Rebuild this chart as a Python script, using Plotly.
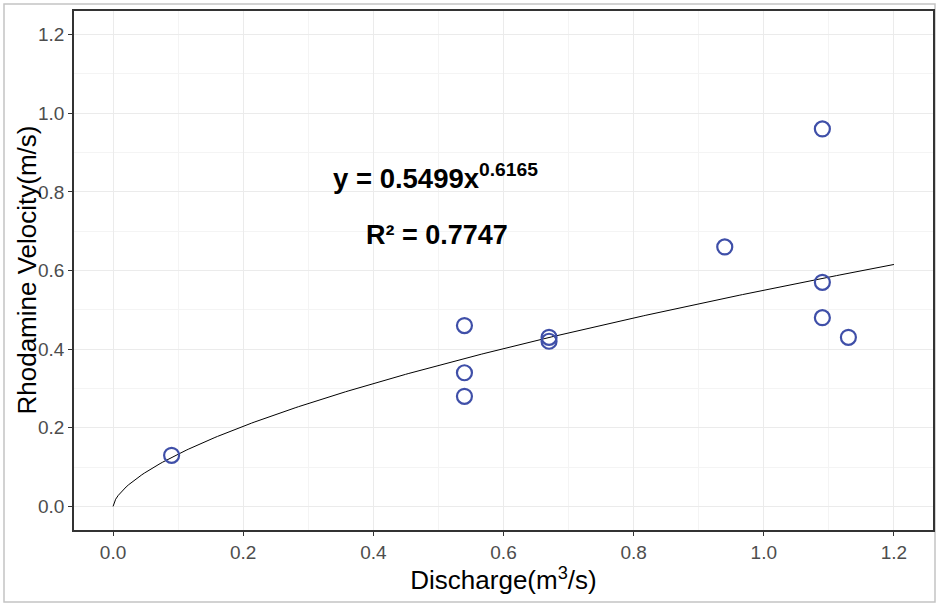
import numpy as np
import plotly.graph_objects as go

# Observed data
discharge = [0.09, 0.54, 0.54, 0.54, 0.67, 0.67, 0.94, 1.09, 1.09, 1.09, 1.13]
velocity = [0.13, 0.46, 0.34, 0.28, 0.43, 0.42, 0.66, 0.96, 0.57, 0.48, 0.43]

# Power-law fit shown on chart
fit_a = 0.5499
fit_b = 0.6165
fit_r2 = 0.7747
fit_xmax = 1.2

tick_vals = [0.0, 0.2, 0.4, 0.6, 0.8, 1.0, 1.2]
tick_text = ["0.0", "0.2", "0.4", "0.6", "0.8", "1.0", "1.2"]

FONT = "Liberation Sans, Arial, sans-serif"

xf = np.linspace(0, fit_xmax, 300)
yf = fit_a * xf ** fit_b

fig = go.Figure()
fig.add_trace(go.Scatter(x=xf, y=yf, mode="lines",
                         line=dict(color="black", width=1), hoverinfo="skip",
                         showlegend=False))
fig.add_trace(go.Scatter(x=discharge, y=velocity, mode="markers",
                         marker=dict(symbol="circle-open", size=15,
                                     color="#3f4fa8", line=dict(width=2.2, color="#3f4fa8")),
                         showlegend=False))

fig.add_annotation(x=0.496, y=0.84, xref="x", yref="y",
                   text="<b>y = 0.5499x<sup>0.6165</sup></b>", showarrow=False,
                   font=dict(family=FONT, size=27.5, color="black"))
fig.add_annotation(x=0.498, y=0.69, xref="x", yref="y",
                   text="<b>R² = %.4f</b>" % fit_r2, showarrow=False,
                   font=dict(family=FONT, size=27, color="black"))

# Axis titles
fig.add_annotation(x=(26 - 74) / 859, y=0.5, xref="paper", yref="paper",
                   text="Rhodamine Velocity(m/s)", textangle=-90, showarrow=False,
                   xanchor="center", yanchor="middle",
                   font=dict(family=FONT, size=26, color="black"))

axis_common = dict(
    tickvals=tick_vals, ticktext=tick_text,
    showgrid=True, gridcolor="#ebebeb", gridwidth=1,
    minor=dict(dtick=0.1, showgrid=True, gridcolor="#f4f4f4", gridwidth=1, ticks=""),
    zeroline=False, automargin=False,
    showline=True, linecolor="#333333", linewidth=1.5, mirror=True,
    ticks="outside", ticklen=4, tickcolor="#333333", tickwidth=1,
    tickfont=dict(family=FONT, size=19, color="#4d4d4d"),
    range=[-0.06, 1.26],
)

fig.update_xaxes(**axis_common,
                 title=dict(text="Discharge(m<sup>3</sup>/s)",
                            font=dict(family=FONT, size=26, color="black"),
                            standoff=8))
fig.update_yaxes(**axis_common)

fig.add_shape(type="rect", xref="paper", yref="paper",
              x0=(4 - 74) / 859, x1=(935 - 74) / 859,
              y0=(530 - 602) / 519, y1=(530 - 4) / 519,
              line=dict(color="#c4c4c4", width=1.5), fillcolor="rgba(0,0,0,0)", layer="below")

fig.update_layout(
    width=940, height=607,
    margin=dict(l=74, r=7, t=11, b=77),
    plot_bgcolor="white", paper_bgcolor="white",
)

fig.write_html("out.html", config={"displayModeBar": False},
               post_script="document.body.style.margin='0';document.body.style.overflow='hidden';")
